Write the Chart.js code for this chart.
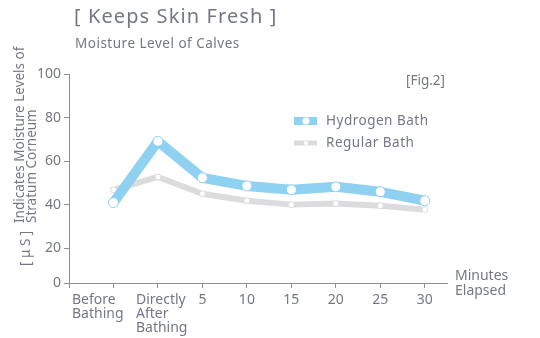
<!DOCTYPE html>
<html>
<head>
<meta charset="utf-8">
<script src="https://cdn.jsdelivr.net/npm/chart.js@4"></script>
<style>
  html, body { margin: 0; padding: 0; background: #fff; }
  #wrap { width: 540px; height: 338px; }
</style>
</head>
<body>
<div id="wrap"><canvas id="chart" width="540" height="338"></canvas></div>
<script>
const categories = [['Before', 'Bathing'], ['Directly', 'After', 'Bathing'], ['5'], ['10'], ['15'], ['20'], ['25'], ['30']];
const hydrogenBath = [40.9, 69.1, 52.3, 48.6, 46.8, 48.2, 45.9, 41.8];
const regularBath = [46.8, 52.7, 45.0, 41.8, 40.0, 40.5, 39.5, 37.7];
const yTicks = [0, 20, 40, 60, 80, 100];
const seriesNames = ['Hydrogen Bath', 'Regular Bath'];

const TEXT = '#747886';
const AXIS = '#8c8f99';
const BLUE = '#8fd1f1';
const GREY = '#dcdcde';
const FONT = '"Noto Sans", sans-serif';
const Y_MIN = 4; // axis is cut: the "0" tick sits at the x-axis

const toPoints = arr => arr.map((v, i) => ({ x: i, y: v }));

const textPlugin = {
    id: 'texts',
    afterDraw(chart) {
        const ctx = chart.ctx;
        const xs = chart.scales.x;
        ctx.save();
        ctx.fillStyle = TEXT;
        ctx.textBaseline = 'middle';

        // titles
        ctx.textAlign = 'left';
        ctx.letterSpacing = '1.1px';
        ctx.font = '20px ' + FONT;
        ctx.fillText('[ Keeps Skin Fresh ]', 74, 17);
        ctx.letterSpacing = '0.5px';
        ctx.font = '13.5px ' + FONT;
        ctx.fillText('Moisture Level of Calves', 75, 44);
        ctx.font = '13.5px ' + FONT;
        ctx.letterSpacing = '0px';
        ctx.fillText('[Fig.2]', 406, 81);

        // x tick labels, left aligned lines
        ctx.font = '14px ' + FONT;
        ctx.textBaseline = 'middle';
        categories.forEach((lines, i) => {
            const px = xs.getPixelForValue(i);
            let left;
            if (i === 0) left = 72;
            else if (lines.length > 1) left = px - 22;
            else left = px - ctx.measureText(lines[0]).width / 2;
            lines.forEach((t, j) => ctx.fillText(t, left, 300 + j * 14));
        });
        ctx.fillText('Minutes', 455, 276);
        ctx.fillText('Elapsed', 455, 291);

        // y axis title
        ctx.save();
        ctx.translate(20, 223);
        ctx.rotate(-Math.PI / 2);
        ctx.textBaseline = 'middle';
        ctx.textAlign = 'left';
        ctx.font = '13.5px ' + FONT;
        ctx.fillText('Indicates Moisture Levels of', 0, 0);
        ctx.fillText('Stratum Corneum', 0, 12.5);
        ctx.fillText('[ μ S ]', -43, 6);
        ctx.restore();

        // legend
        ctx.textBaseline = 'middle';
        ctx.textAlign = 'left';
        ctx.font = '13.5px ' + FONT;
        ctx.letterSpacing = '0.5px';
        const items = [
            { y: 121, color: BLUE, h: 8, r: 3.5 },
            { y: 143, color: GREY, h: 5, r: 2 }
        ];
        items.forEach((it, i) => {
            ctx.fillStyle = it.color;
            ctx.fillRect(294, it.y - it.h / 2, 23, it.h);
            ctx.fillStyle = '#fff';
            ctx.beginPath();
            ctx.arc(306, it.y, it.r, 0, Math.PI * 2);
            ctx.fill();
            ctx.fillStyle = TEXT;
            ctx.fillText(seriesNames[i], 326, it.y);
        });
        ctx.restore();
    }
};

new Chart(document.getElementById('chart'), {
    type: 'line',
    data: {
        datasets: [{
            label: seriesNames[0],
            data: toPoints(hydrogenBath),
            borderColor: BLUE,
            borderWidth: 10,
            borderJoinStyle: 'round',
            borderCapStyle: 'round',
            pointRadius: 5,
            pointBorderWidth: 1,
            pointBackgroundColor: '#fff',
            pointBorderColor: BLUE,
            tension: 0
        }, {
            label: seriesNames[1],
            data: toPoints(regularBath),
            borderColor: GREY,
            borderWidth: 6,
            borderJoinStyle: 'round',
            borderCapStyle: 'round',
            pointRadius: 3,
            pointBorderWidth: 1,
            pointBackgroundColor: '#fff',
            pointBorderColor: GREY,
            tension: 0
        }]
    },
    options: {
        responsive: false,
        animation: false,
        layout: { padding: { top: 74, right: 93, left: 0, bottom: 0 } },
        plugins: { legend: { display: false }, tooltip: { enabled: false } },
        scales: {
            x: {
                type: 'linear',
                min: -1,
                max: 7.5,
                afterBuildTicks: s => { s.ticks = [-1, 0, 1, 2, 3, 4, 5, 6, 7].map(v => ({ value: v })); },
                afterFit: s => { s.height = 55; },
                ticks: { display: false },
                grid: { drawOnChartArea: false, drawTicks: true, tickLength: 5, color: AXIS },
                border: { display: true, color: AXIS, width: 1 }
            },
            y: {
                min: Y_MIN,
                max: 100,
                afterBuildTicks: s => { s.ticks = yTicks.map(v => ({ value: Math.max(v, Y_MIN) })); },
                afterFit: s => { s.width = 69; },
                ticks: {
                    color: TEXT,
                    font: { family: FONT, size: 14 },
                    padding: 3,
                    callback: v => v === Y_MIN ? '0' : String(v)
                },
                grid: { drawOnChartArea: false, drawTicks: true, tickLength: 5, color: AXIS },
                border: { display: true, color: AXIS, width: 1 }
            }
        }
    },
    plugins: [textPlugin]
});
</script>
</body>
</html>
